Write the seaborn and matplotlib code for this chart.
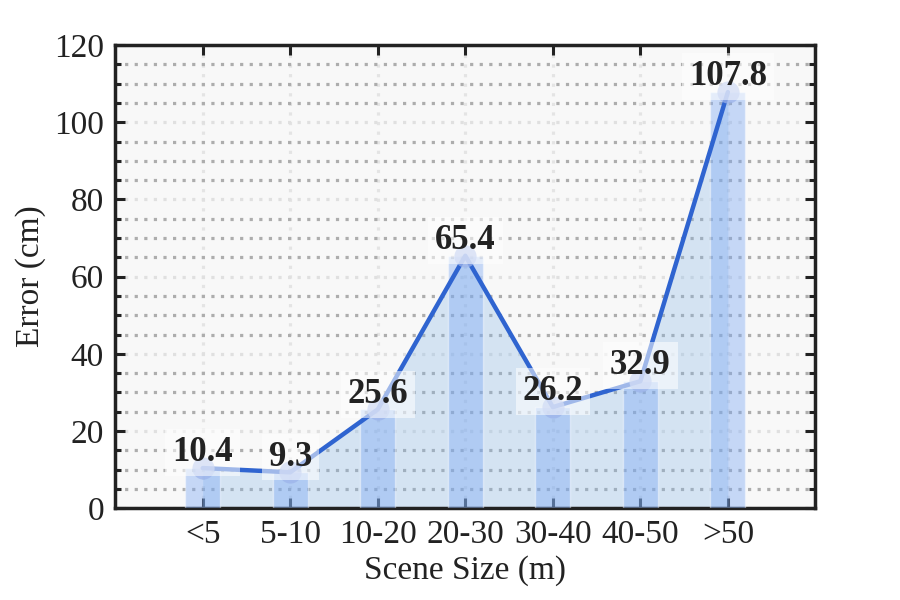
import matplotlib
matplotlib.use("Agg")
import matplotlib.pyplot as plt
from matplotlib.ticker import MultipleLocator
import numpy as np
import pandas as pd
import seaborn as sns

# ── data ────────────────────────────────────────────────────────────────
scene_sizes = ["<5", "5-10", "10-20", "20-30", "30-40", "40-50", ">50"]
error_cm = [10.4, 9.3, 25.6, 65.4, 26.2, 32.9, 107.8]

LINE_C = "#2f64d0"
BAR_C = "#7aa7f5"
AREA_C = "#83b5e7"
INK = "#222222"

sns.set_theme(style="ticks")
plt.rcParams["font.family"] = ["Liberation Serif", "DejaVu Serif"]

df = pd.DataFrame({"size": scene_sizes, "error": error_cm})
pos = np.arange(len(scene_sizes))

fig = plt.figure(figsize=(9, 6), dpi=100)
ax = fig.add_axes([0.128, 0.153, 0.778, 0.772])
ax.set_facecolor("#f8f8f8")

# bars
sns.barplot(data=df, x="size", y="error", width=0.4, color=BAR_C,
            alpha=0.4, saturation=1, ax=ax, zorder=3)

# shaded area + line
ax.fill_between(pos, error_cm, 0, color=AREA_C, alpha=0.3, lw=0, zorder=2)
sns.lineplot(x=pos, y=error_cm, color=LINE_C, linewidth=3.2, ax=ax, zorder=4)
ax.plot(pos, error_cm, "o", ms=16, color="#9db4ea", alpha=0.75, mec="none", zorder=5)

# value labels
for x, v in zip(pos, error_cm):
    ax.annotate(f"{v:.1f}", (x, v), xytext=(0, 11), textcoords="offset points",
                ha="center", va="center", fontsize=25, fontweight="bold",
                color=INK, zorder=6,
                bbox=dict(boxstyle="square,pad=0.2", fc="white", ec="none", alpha=0.55))

# axes, ticks, grid
ax.set_xlim(-1, 7)
ax.set_ylim(0, 120)
ax.yaxis.set_major_locator(MultipleLocator(20))
ax.yaxis.set_minor_locator(MultipleLocator(5))
ax.tick_params(which="both", direction="in", top=True, right=True,
               colors=INK, width=2.2, labelsize=24, pad=8)
ax.tick_params(which="major", length=7)
ax.tick_params(which="minor", length=4)
ax.tick_params(axis="x", which="minor", bottom=False, top=False)

ax.grid(axis="y", which="minor", color="#adadad", lw=2.3, dashes=(1, 2), zorder=0)
ax.grid(axis="y", which="major", color="#e0e0e0", lw=2.3, dashes=(1, 2), zorder=0)
ax.grid(axis="x", which="major", color="#e4e4e4", lw=2.3, dashes=(1, 2), zorder=0)
ax.set_axisbelow(True)

for s in ax.spines.values():
    s.set_color(INK)
    s.set_linewidth(2.5)

ax.set_xlabel("Scene Size (m)", fontsize=24, color=INK, labelpad=4)
ax.set_ylabel("Error (cm)", fontsize=24, color=INK, labelpad=6)

fig.savefig("out.png", dpi=100)
